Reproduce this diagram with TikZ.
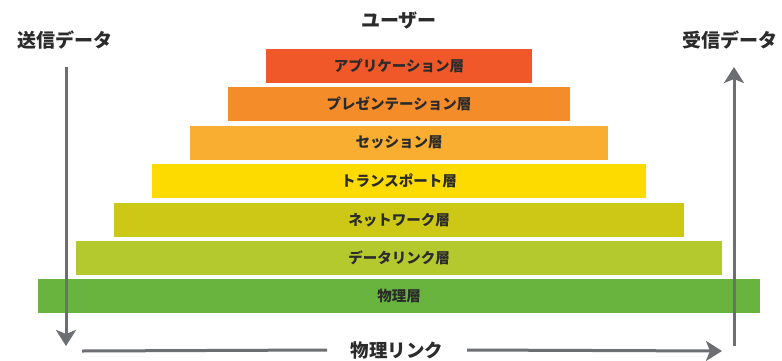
\documentclass[tikz,border=0pt]{standalone}
\usepackage{fontspec}
\setmainfont{Noto Sans CJK JP}
\usetikzlibrary{arrows.meta}
\definecolor{cA}{HTML}{F0582A}
\definecolor{cB}{HTML}{F58C2A}
\definecolor{cC}{HTML}{F9AE32}
\definecolor{cD}{HTML}{FDDB00}
\definecolor{cE}{HTML}{CDC716}
\definecolor{cF}{HTML}{B4C92D}
\definecolor{cG}{HTML}{69B43F}
\definecolor{txt}{HTML}{2B2B2B}
\definecolor{arr}{HTML}{6D6E71}
\tikzset{
  layer/.style={draw=none, inner sep=0pt, minimum height=34pt, text=txt, font=\fontsize{14.5}{16}\selectfont\bfseries},
  title/.style={inner sep=0pt, text=txt, font=\fontsize{19}{21}\selectfont\bfseries},
  flow/.style={draw=arr, line width=3pt, -{Stealth[width=20pt,length=16pt,inset=4pt]}},
  plain/.style={draw=arr, line width=3pt}
}
\begin{document}
\begin{tikzpicture}[x=1pt,y=-1pt]
\useasboundingbox (0,0) rectangle (782,360);
\node[layer, fill=cA, minimum width=266pt] (app) at (399,66) {アプリケーション層};
\node[layer, fill=cB, minimum width=342pt] (pre) at (399,104) {プレゼンテーション層};
\node[layer, fill=cC, minimum width=418pt] (ses) at (399,142.5) {セッション層};
\node[layer, fill=cD, minimum width=494pt] (tra) at (399,181) {トランスポート層};
\node[layer, fill=cE, minimum width=570pt] (net) at (399,220) {ネットワーク層};
\node[layer, fill=cF, minimum width=646pt] (dl) at (399,258) {データリンク層};
\node[layer, fill=cG, minimum width=722pt] (phy) at (399,296) {物理層};
\node[title] (user) at (399,21) {ユーザー};
\node[title] (send) at (65,40) {送信データ};
\node[title] (recv) at (730,40) {受信データ};
\node[title, font=\fontsize{18.5}{20}\selectfont\bfseries] (link) at (397,350) {物理リンク};
\coordinate (s1) at (66,67);
\coordinate (s2) at (66,346);
\coordinate (r1) at (734,346);
\coordinate (r2) at (734,67);
\coordinate (b1) at (82,351);
\coordinate (b2) at (722,351);
\draw[flow] (s1) -- (s2);
\draw[flow] (r1) -- (r2);
\draw[plain] (b1) -- (link.west -| 327,0) ;
\draw[flow] (link.east -| 467,0) -- (b2);
\end{tikzpicture}
\end{document}
